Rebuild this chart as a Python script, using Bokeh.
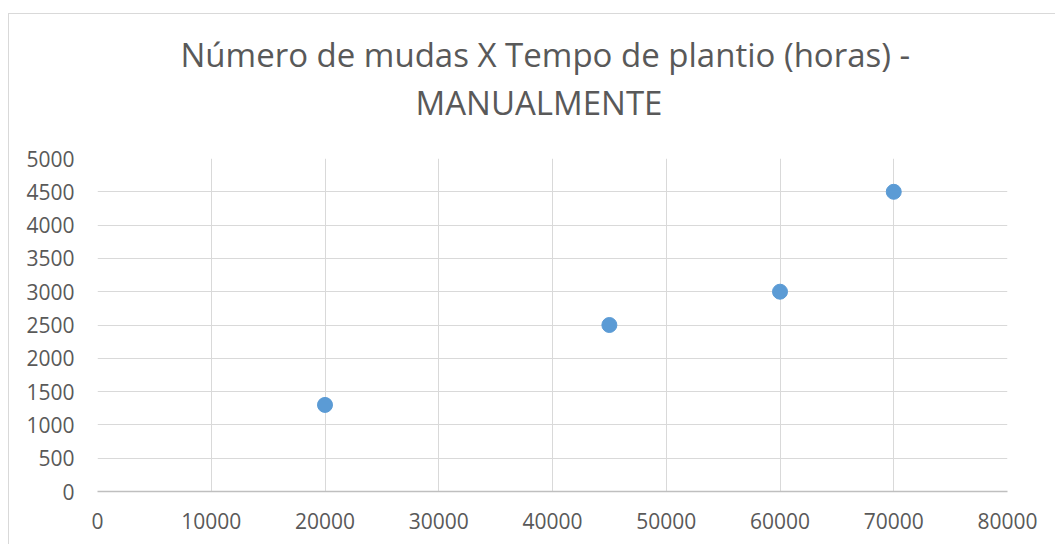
from bokeh.plotting import figure
from bokeh.models import Range1d, SingleIntervalTicker, Title, ColumnDataSource
from bokeh.embed import file_html
from bokeh.resources import INLINE

# data
mudas = [20000, 45000, 60000, 70000]
horas = [1300, 2500, 3000, 4500]
title_lines = ["Número de mudas X Tempo de plantio (horas) -", "MANUALMENTE"]

FONT = "Open Sans"
GREY_TXT = "#595959"

p = figure(width=1047, height=531, output_backend="svg", toolbar_location=None,
           x_range=Range1d(0, 80000), y_range=Range1d(0, 5000),
           min_border_left=88, min_border_right=49, min_border_top=144, min_border_bottom=54)
p.styles = {"margin-left": "8px", "margin-top": "13px",
            "border-left": "1px solid #d9d9d9", "border-top": "1px solid #d9d9d9"}
p.title.visible = False
p.outline_line_color = None
p.background_fill_color = "white"
p.border_fill_color = "white"

src = ColumnDataSource(dict(x=mudas, y=horas))
p.scatter("x", "y", source=src, size=15, fill_color="#5b9bd5", line_color="#5b9bd5")

p.xaxis.ticker = SingleIntervalTicker(interval=10000)
p.yaxis.ticker = SingleIntervalTicker(interval=500)
for ax in (p.xaxis, p.yaxis):
    ax.major_tick_line_color = None
    ax.minor_tick_line_color = None
    ax.major_tick_out = 0
    ax.major_tick_in = 0
    ax.major_label_text_font = FONT
    ax.major_label_text_font_size = "21px"
    ax.major_label_text_color = GREY_TXT
p.xaxis.axis_line_color = "#bfbfbf"
p.xaxis.axis_line_width = 1.5
p.yaxis.axis_line_color = None
p.xaxis.major_label_standoff = 17
p.yaxis.major_label_standoff = 19

p.xgrid.grid_line_color = "#d9d9d9"
p.ygrid.grid_line_color = "#d9d9d9"
p.xgrid.ticker = SingleIntervalTicker(interval=10000)
p.ygrid.ticker = SingleIntervalTicker(interval=500)

t2 = Title(text=title_lines[1], align="left", offset=318, standoff=67,
           text_font=FONT, text_font_size="33px", text_font_style="normal",
           text_color=GREY_TXT)
t1 = Title(text=title_lines[0], align="left", offset=83, standoff=-65,
           text_font=FONT, text_font_size="33px", text_font_style="normal",
           text_color=GREY_TXT)
p.add_layout(t2, "above")
p.add_layout(t1, "above")

open("out.html", "w").write(file_html(p, INLINE))
